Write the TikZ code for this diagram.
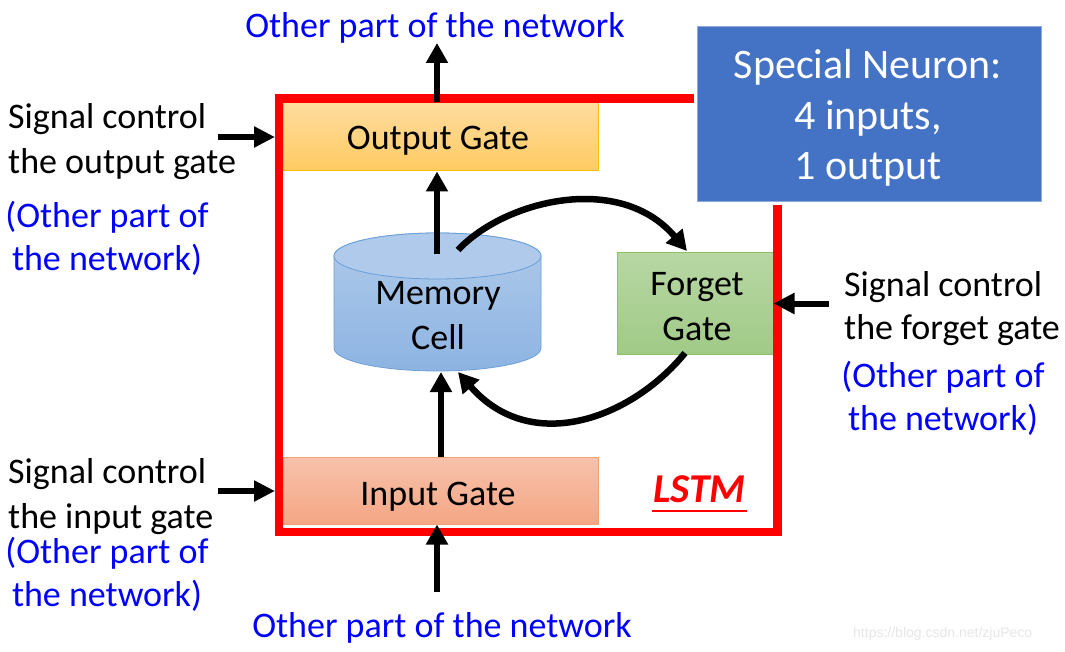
\documentclass[tikz,border=0pt]{standalone}
\usepackage{fontspec}
\setmainfont{Carlito}
\newfontfamily\wmfont{Liberation Sans}
\usetikzlibrary{arrows.meta}
\definecolor{netblue}{HTML}{0000FF}
\definecolor{frameRed}{HTML}{FF0000}
\definecolor{ogTop}{HTML}{FFDC9E}
\definecolor{ogBot}{HTML}{FFCB62}
\definecolor{ogLine}{HTML}{FFC000}
\definecolor{igTop}{HTML}{F7C2AB}
\definecolor{igBot}{HTML}{F4A684}
\definecolor{igLine}{HTML}{F2A272}
\definecolor{fgTop}{HTML}{B8D7A4}
\definecolor{fgBot}{HTML}{A0CA87}
\definecolor{fgLine}{HTML}{8CC06B}
\definecolor{cellTop}{HTML}{AFCAEA}
\definecolor{cellBot}{HTML}{8DB4E2}
\definecolor{cellLine}{HTML}{6A9FD8}
\definecolor{neuronFill}{HTML}{4472C4}
\definecolor{neuronLine}{HTML}{8FAADC}
\definecolor{wmgray}{HTML}{E6E6E6}
\tikzset{
  gatebox/.style={draw, line width=1pt, inner sep=0pt, rectangle},
  lbl/.style={font=\fontsize{36}{44}\selectfont, inner sep=0pt},
  bigarrow/.style={line width=6.5pt, -{Triangle[length=20pt,width=21pt]}},
  sidearrow/.style={line width=6pt, -{Triangle[length=21pt,width=20pt]}},
}
\begin{document}
\begin{tikzpicture}[x=1pt,y=-1pt]
\useasboundingbox (0,0) rectangle (1065,652);
\fill[white] (0,0) rectangle (1065,652);

% gates
\node[gatebox, draw=ogLine, top color=ogTop, bottom color=ogBot,
      minimum width=315pt, minimum height=68pt] (og) at (440.5,137) {};
\node[gatebox, draw=igLine, top color=igTop, bottom color=igBot,
      minimum width=315pt, minimum height=67pt] (ig) at (440.5,490.5) {};
\node[gatebox, draw=fgLine, top color=fgTop, bottom color=fgBot,
      minimum width=156pt, minimum height=101pt] (fg) at (695,303.5) {};

% memory cell cylinder
\draw[cellLine, line width=0.8pt, top color=cellTop, bottom color=cellBot]
  (334,256) -- (334,348)
  .. controls (334,360.7) and (380.3,371) .. (437.5,371)
  .. controls (494.7,371) and (541,360.7) .. (541,348)
  -- (541,256)
  .. controls (541,243.3) and (494.7,233) .. (437.5,233)
  .. controls (380.3,233) and (334,243.3) .. (334,256) -- cycle;
\draw[cellLine, line width=0.8pt, fill=cellTop] (437.5,256) ellipse [x radius=103.5pt, y radius=23pt];

% red LSTM frame
\draw[frameRed, line width=8.5pt, line join=miter]
  (694,98.5) -- (279,98.5) -- (279,532) -- (777.5,532) -- (777.5,205);

% special neuron box
\node[draw=neuronLine, line width=1pt, fill=neuronFill, minimum width=344pt,
      minimum height=175pt, inner sep=0pt] (neuron) at (869,114.5) {};
\node[font=\fontsize{42}{50}\selectfont, text=white, anchor=base, inner sep=0pt] (sn1) at (868,79) {Special Neuron:};
\node[font=\fontsize{42}{50}\selectfont, text=white, anchor=base, inner sep=0pt] (sn2) at (868,130) {4 inputs,};
\node[font=\fontsize{42}{50}\selectfont, text=white, anchor=base, inner sep=0pt] (sn3) at (868,180) {1 output};

% inner labels
\node[lbl, anchor=base] (ogt) at (438,150) {Output Gate};
\node[lbl, anchor=base] (igt) at (438,505) {Input Gate};
\node[lbl, anchor=base] (cellt1) at (438,305) {Memory};
\node[lbl, anchor=base] (cellt2) at (438,349) {Cell};
\node[lbl, anchor=base] (fgt1) at (697,295) {Forget};
\node[lbl, anchor=base] (fgt2) at (697,340) {Gate};
\node[font=\fontsize{41}{48}\selectfont\bfseries\itshape, text=frameRed, anchor=base, inner sep=0pt] (lstm) at (699.5,502) {LSTM};
\draw[frameRed, line width=2.5pt] (652,511) -- (747,511);

% outer labels
\node[lbl, text=netblue, anchor=base] (topnet) at (435,38) {Other part of the network};
\node[lbl, text=netblue, anchor=base] (botnet) at (442,637) {Other part of the network};

\node[lbl, anchor=base west] (lo1) at (8,129) {Signal control};
\node[lbl, anchor=base west] (lo2) at (8,174) {the output gate};
\node[lbl, text=netblue, anchor=base] (lo3) at (107,228) {(Other part of};
\node[lbl, text=netblue, anchor=base] (lo4) at (107,270) {the network)};

\node[lbl, anchor=base west] (li1) at (8,483) {Signal control};
\node[lbl, anchor=base west] (li2) at (8,528) {the input gate};
\node[lbl, text=netblue, anchor=base] (li3) at (107,563) {(Other part of};
\node[lbl, text=netblue, anchor=base] (li4) at (107,606) {the network)};

\node[lbl, anchor=base west] (rf1) at (844,296) {Signal control};
\node[lbl, anchor=base west] (rf2) at (844,339) {the forget gate};
\node[lbl, text=netblue, anchor=base] (rf3) at (943,387) {(Other part of};
\node[lbl, text=netblue, anchor=base] (rf4) at (943,430) {the network)};

\node[font=\wmfont\fontsize{14}{16}\selectfont, text=wmgray, anchor=base west, inner sep=0pt] (wm) at (853,637) {https://blog.csdn.net/zjuPeco};

% coordinates for connector ends
\coordinate (toptip) at (437,43);
\coordinate (ctop) at (437,254);
\coordinate (cbot) at (441,372);
\coordinate (botstart) at (437,592);
\coordinate (lo) at (218,137);
\coordinate (loend) at (275,137);
\coordinate (li) at (218,491);
\coordinate (liend) at (275,491);
\coordinate (rf) at (829,303.5);
\coordinate (c1start) at (458,250);
\coordinate (c1end) at (687,251);
\coordinate (c2start) at (685,353);
\coordinate (c2end) at (458,372);

% connectors
\draw[bigarrow] (og.north -| toptip) -- (toptip);
\draw[bigarrow] (ctop) -- (ctop |- og.south);
\draw[bigarrow] (ig.north -| cbot) -- (cbot);
\draw[bigarrow] (botstart) -- (botstart |- ig.south);
\draw[sidearrow] (lo) -- (loend);
\draw[sidearrow] (li) -- (liend);
\draw[sidearrow] (rf) -- (fg.east);
\draw[bigarrow] (c1start) .. controls (505,200) and (620,172) .. (c1end);
\draw[bigarrow] (c2start) .. controls (630,420) and (530,455) .. (c2end);
\end{tikzpicture}
\end{document}
